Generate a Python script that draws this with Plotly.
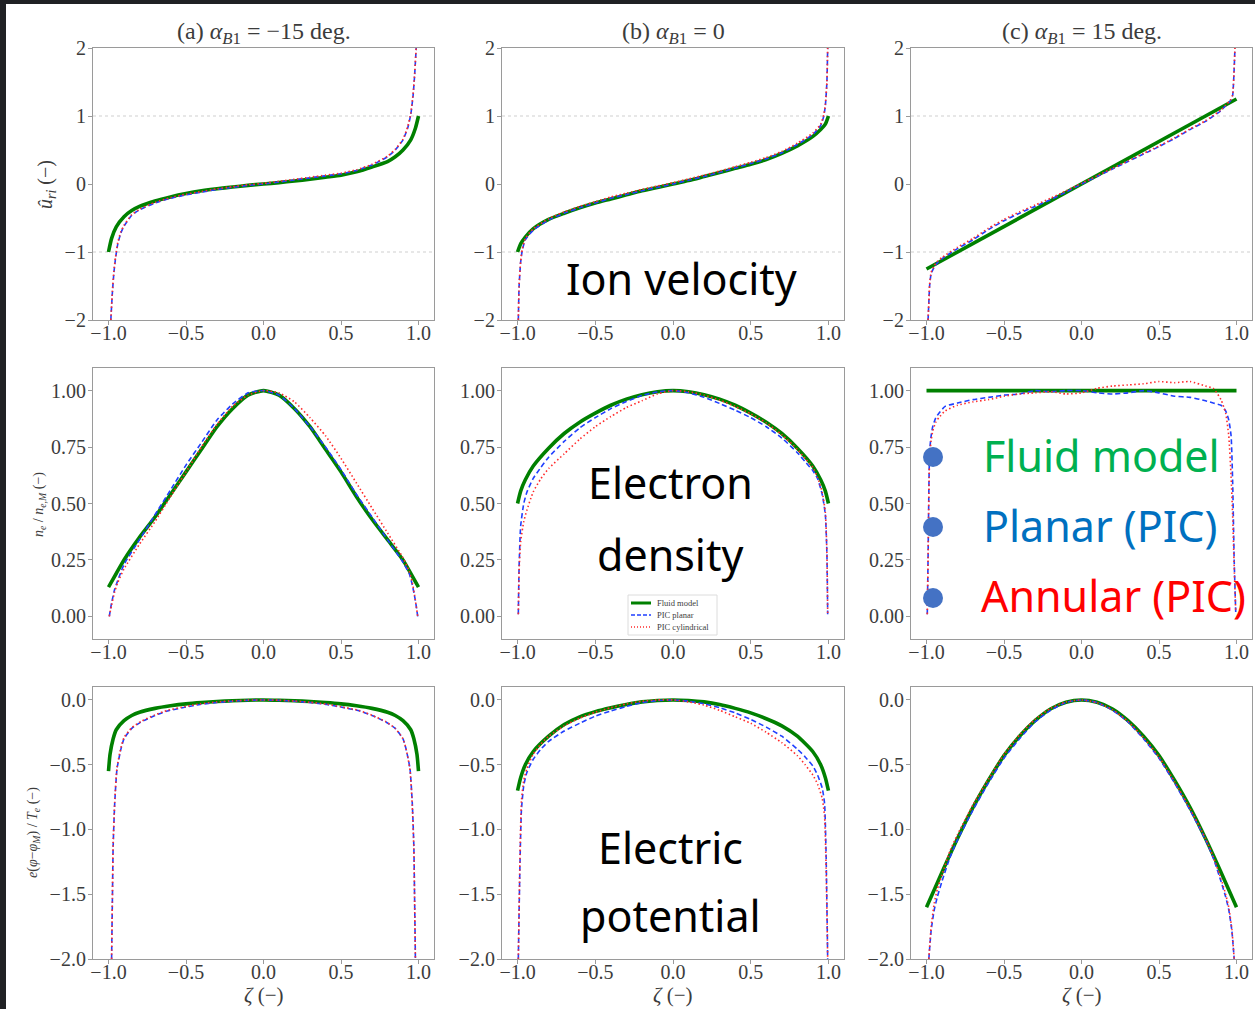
import plotly.graph_objects as go

W, H = 1255, 1009

# ---------------------------------------------------------------- data
# Row 1: normalised radial ion velocity u_ri
u_fluid_a_z = [-1.0, -0.98, -0.95, -0.9, -0.85, -0.8, -0.7, -0.6, -0.5, -0.4, -0.3, -0.2, -0.1, 0.0,
               0.1, 0.2, 0.3, 0.4, 0.5, 0.6, 0.7, 0.8, 0.85, 0.9, 0.95, 0.98, 1.0]
u_fluid_a = [-1.0, -0.80, -0.63, -0.48, -0.39, -0.33, -0.25, -0.19, -0.14, -0.10, -0.07, -0.045, -0.02, 0.0,
             0.02, 0.045, 0.07, 0.10, 0.13, 0.18, 0.25, 0.33, 0.40, 0.50, 0.65, 0.82, 1.0]
u_pic_a_z = [-0.985, -0.975, -0.965, -0.955, -0.94, -0.92, -0.9, -0.85, -0.8, -0.7, -0.6, -0.5, -0.4, -0.3,
             -0.2, -0.1, 0.0, 0.1, 0.2, 0.3, 0.4, 0.5, 0.6, 0.7, 0.8, 0.85, 0.9, 0.93, 0.95, 0.965, 0.975, 0.985]
u_planar_a = [-2.0, -1.6, -1.3, -1.1, -0.88, -0.72, -0.62, -0.46, -0.38, -0.28, -0.21, -0.16, -0.12, -0.08,
              -0.05, -0.02, 0.0, 0.03, 0.06, 0.09, 0.12, 0.15, 0.20, 0.28, 0.40, 0.50, 0.65, 0.82, 1.02, 1.3, 1.6, 2.0]
u_cyl_a = [-2.0, -1.58, -1.28, -1.08, -0.86, -0.70, -0.61, -0.45, -0.37, -0.27, -0.20, -0.15, -0.11, -0.07,
           -0.04, -0.01, 0.01, 0.04, 0.07, 0.10, 0.13, 0.16, 0.21, 0.29, 0.41, 0.51, 0.66, 0.84, 1.04, 1.32, 1.62, 2.0]

u_fluid_b_z = [-1.0, -0.98, -0.95, -0.9, -0.8, -0.7, -0.6, -0.5, -0.4, -0.3, -0.2, -0.1, 0.0,
               0.1, 0.2, 0.3, 0.4, 0.5, 0.6, 0.7, 0.8, 0.9, 0.95, 0.98, 1.0]
u_fluid_b = [-1.0, -0.88, -0.78, -0.66, -0.52, -0.43, -0.35, -0.28, -0.22, -0.16, -0.10, -0.05, 0.0,
             0.05, 0.11, 0.17, 0.23, 0.29, 0.36, 0.45, 0.56, 0.70, 0.80, 0.88, 1.0]
u_pic_b_z = [-0.995, -0.99, -0.98, -0.97, -0.95, -0.9, -0.8, -0.7, -0.6, -0.5, -0.4, -0.3, -0.2, -0.1, 0.0,
             0.1, 0.2, 0.3, 0.4, 0.5, 0.6, 0.7, 0.8, 0.9, 0.95, 0.97, 0.98, 0.99, 0.995]
u_planar_b = [-2.0, -1.5, -1.15, -0.98, -0.82, -0.68, -0.53, -0.43, -0.35, -0.28, -0.21, -0.155, -0.10, -0.05, 0.0,
              0.055, 0.11, 0.17, 0.235, 0.30, 0.37, 0.46, 0.58, 0.73, 0.86, 1.0, 1.15, 1.5, 2.0]
u_cyl_b = [-2.0, -1.5, -1.14, -0.96, -0.80, -0.66, -0.51, -0.41, -0.33, -0.26, -0.19, -0.135, -0.08, -0.03, 0.02,
           0.075, 0.13, 0.19, 0.255, 0.32, 0.39, 0.48, 0.60, 0.75, 0.88, 1.02, 1.17, 1.5, 2.0]

u_fluid_c_z = [-1.0, 1.0]
u_fluid_c = [-1.25, 1.25]
u_pic_c_z = [-0.99, -0.985, -0.98, -0.97, -0.95, -0.93, -0.9, -0.8, -0.7, -0.6, -0.5, -0.4, -0.3, -0.2, -0.1, 0.0,
             0.1, 0.2, 0.3, 0.4, 0.5, 0.6, 0.7, 0.8, 0.9, 0.93, 0.96, 0.975, 0.98, 0.985, 0.99]
u_planar_c = [-2.0, -1.75, -1.5, -1.32, -1.22, -1.16, -1.10, -0.95, -0.82, -0.67, -0.54, -0.43, -0.33, -0.23, -0.12, 0.0,
              0.11, 0.22, 0.33, 0.44, 0.55, 0.67, 0.80, 0.92, 1.08, 1.15, 1.22, 1.30, 1.45, 1.7, 2.0]
u_cyl_c = [-2.0, -1.74, -1.48, -1.30, -1.20, -1.14, -1.08, -0.93, -0.80, -0.65, -0.52, -0.41, -0.31, -0.21, -0.10, 0.01,
           0.12, 0.23, 0.34, 0.45, 0.56, 0.68, 0.81, 0.93, 1.09, 1.16, 1.23, 1.31, 1.46, 1.7, 2.0]

# Row 2: electron density n_e / n_e,M
n_fluid_a_z = [-1.0, -0.95, -0.9, -0.8, -0.7, -0.6, -0.5, -0.4, -0.3, -0.2, -0.1, 0.0,
               0.1, 0.2, 0.3, 0.4, 0.5, 0.6, 0.7, 0.8, 0.9, 0.95, 1.0]
n_fluid_a = [0.13, 0.19, 0.25, 0.35, 0.44, 0.54, 0.64, 0.74, 0.84, 0.92, 0.98, 1.0,
             0.98, 0.92, 0.84, 0.74, 0.64, 0.53, 0.43, 0.34, 0.25, 0.19, 0.13]
n_pic_a_z = [-0.995, -0.98, -0.96, -0.94, -0.9, -0.8, -0.7, -0.6, -0.5, -0.4, -0.3, -0.2, -0.1, 0.0,
             0.1, 0.2, 0.3, 0.4, 0.5, 0.6, 0.7, 0.8, 0.9, 0.94, 0.96, 0.98, 0.995]
n_planar_a = [0.0, 0.06, 0.12, 0.16, 0.23, 0.34, 0.45, 0.56, 0.67, 0.77, 0.87, 0.94, 0.99, 1.0,
              0.98, 0.92, 0.84, 0.75, 0.65, 0.54, 0.44, 0.34, 0.24, 0.19, 0.14, 0.07, 0.0]
n_cyl_a = [0.0, 0.05, 0.11, 0.15, 0.21, 0.32, 0.42, 0.53, 0.64, 0.75, 0.85, 0.93, 0.98, 1.0,
           0.99, 0.95, 0.88, 0.80, 0.70, 0.59, 0.48, 0.37, 0.26, 0.20, 0.15, 0.07, 0.0]

n_fluid_b_z = [-1.0, -0.98, -0.95, -0.9, -0.8, -0.7, -0.6, -0.5, -0.4, -0.3, -0.2, -0.1, 0.0,
               0.1, 0.2, 0.3, 0.4, 0.5, 0.6, 0.7, 0.8, 0.9, 0.95, 0.98, 1.0]
n_fluid_b = [0.50, 0.555, 0.605, 0.665, 0.745, 0.81, 0.86, 0.90, 0.935, 0.962, 0.982, 0.995, 1.0,
             0.995, 0.982, 0.962, 0.935, 0.90, 0.86, 0.81, 0.745, 0.665, 0.605, 0.555, 0.50]
n_pic_b_z = [-0.995, -0.99, -0.98, -0.96, -0.94, -0.9, -0.85, -0.8, -0.7, -0.6, -0.5, -0.4, -0.3, -0.2, -0.1, 0.0,
             0.1, 0.2, 0.3, 0.4, 0.5, 0.6, 0.7, 0.8, 0.85, 0.9, 0.93, 0.96, 0.98, 0.99, 0.995]
n_planar_b = [0.01, 0.22, 0.40, 0.50, 0.55, 0.61, 0.66, 0.705, 0.775, 0.835, 0.88, 0.92, 0.952, 0.978, 0.994, 1.0,
              0.99, 0.97, 0.943, 0.913, 0.88, 0.84, 0.79, 0.725, 0.685, 0.645, 0.61, 0.54, 0.45, 0.28, 0.01]
n_cyl_b = [0.01, 0.20, 0.33, 0.42, 0.47, 0.55, 0.61, 0.655, 0.72, 0.785, 0.84, 0.885, 0.925, 0.955, 0.985, 1.0,
           0.995, 0.98, 0.958, 0.93, 0.897, 0.857, 0.805, 0.74, 0.70, 0.66, 0.615, 0.55, 0.46, 0.28, 0.01]

n_fluid_c_z = [-1.0, 1.0]
n_fluid_c = [1.0, 1.0]
n_pic_c_z = [-0.995, -0.99, -0.98, -0.97, -0.96, -0.94, -0.92, -0.88, -0.8, -0.7, -0.6, -0.5, -0.4, -0.3, -0.2, -0.1,
             0.0, 0.1, 0.2, 0.3, 0.4, 0.5, 0.6, 0.7, 0.8, 0.85, 0.9, 0.93, 0.95, 0.965, 0.975, 0.985, 0.995]
n_planar_c = [0.01, 0.25, 0.73, 0.80, 0.84, 0.88, 0.90, 0.93, 0.945, 0.96, 0.97, 0.98, 0.985, 1.0, 0.995, 1.0,
              1.0, 0.99, 0.985, 0.99, 1.0, 0.99, 0.975, 0.97, 0.955, 0.945, 0.935, 0.91, 0.87, 0.80, 0.60, 0.25, 0.02]
n_cyl_c = [0.01, 0.25, 0.70, 0.78, 0.82, 0.86, 0.88, 0.91, 0.935, 0.95, 0.96, 0.975, 0.985, 0.99, 0.995, 0.985,
           0.99, 1.01, 1.02, 1.025, 1.03, 1.04, 1.035, 1.04, 1.02, 1.01, 0.96, 0.90, 0.80, 0.62, 0.45, 0.22, 0.02]

# Row 3: normalised electric potential e(phi - phi_M)/T_e
p_fluid_a_z = [-1.0, -0.99, -0.97, -0.95, -0.9, -0.85, -0.8, -0.7, -0.6, -0.5, -0.4, -0.3, -0.2, -0.1, 0.0,
               0.1, 0.2, 0.3, 0.4, 0.5, 0.6, 0.7, 0.8, 0.85, 0.9, 0.95, 0.97, 0.99, 1.0]
p_fluid_a = [-0.55, -0.42, -0.30, -0.23, -0.16, -0.12, -0.095, -0.065, -0.045, -0.03, -0.02, -0.012, -0.006, -0.002, 0.0,
             -0.002, -0.006, -0.012, -0.02, -0.03, -0.045, -0.065, -0.095, -0.12, -0.16, -0.23, -0.30, -0.42, -0.55]
p_pic_a_z = [-0.98, -0.975, -0.97, -0.96, -0.945, -0.92, -0.9, -0.85, -0.79, -0.7, -0.62, -0.5, -0.41, -0.3, -0.2, -0.1, 0.0,
             0.1, 0.2, 0.3, 0.41, 0.5, 0.62, 0.7, 0.79, 0.85, 0.9, 0.92, 0.945, 0.96, 0.97, 0.975, 0.98]
p_planar_a = [-2.0, -1.55, -1.13, -0.80, -0.53, -0.38, -0.30, -0.22, -0.17, -0.12, -0.085, -0.055, -0.035, -0.02, -0.01, -0.003, 0.0,
              -0.003, -0.01, -0.02, -0.035, -0.055, -0.085, -0.12, -0.17, -0.22, -0.30, -0.38, -0.53, -0.80, -1.13, -1.55, -2.0]
p_cyl_a = [-2.0, -1.53, -1.11, -0.79, -0.52, -0.37, -0.29, -0.215, -0.165, -0.115, -0.08, -0.05, -0.03, -0.015, -0.007, -0.001, 0.0,
           -0.002, -0.008, -0.018, -0.033, -0.052, -0.082, -0.118, -0.168, -0.22, -0.30, -0.38, -0.54, -0.82, -1.15, -1.57, -2.0]

p_fluid_b_z = [-1.0, -0.98, -0.95, -0.9, -0.8, -0.7, -0.6, -0.5, -0.4, -0.3, -0.2, -0.1, 0.0,
               0.1, 0.2, 0.3, 0.4, 0.5, 0.6, 0.7, 0.8, 0.9, 0.95, 0.98, 1.0]
p_fluid_b = [-0.70, -0.60, -0.50, -0.40, -0.28, -0.19, -0.13, -0.09, -0.06, -0.035, -0.015, -0.004, 0.0,
             -0.004, -0.015, -0.035, -0.065, -0.10, -0.145, -0.20, -0.28, -0.40, -0.50, -0.60, -0.70]
p_pic_b_z = [-0.995, -0.985, -0.975, -0.96, -0.94, -0.9, -0.85, -0.8, -0.7, -0.6, -0.5, -0.4, -0.3, -0.2, -0.1, 0.0,
             0.1, 0.2, 0.3, 0.4, 0.5, 0.6, 0.7, 0.8, 0.85, 0.9, 0.93, 0.96, 0.975, 0.985, 0.995]
p_planar_b = [-2.0, -1.3, -0.85, -0.66, -0.56, -0.46, -0.38, -0.32, -0.24, -0.18, -0.125, -0.085, -0.05, -0.02, -0.005, 0.0,
              -0.01, -0.03, -0.06, -0.10, -0.15, -0.21, -0.28, -0.38, -0.44, -0.51, -0.58, -0.68, -0.80, -1.2, -2.0]
p_cyl_b = [-2.0, -1.25, -0.78, -0.62, -0.53, -0.42, -0.34, -0.28, -0.20, -0.14, -0.095, -0.06, -0.03, -0.01, 0.0, 0.0,
           -0.015, -0.04, -0.08, -0.13, -0.18, -0.25, -0.33, -0.43, -0.50, -0.58, -0.65, -0.76, -0.90, -1.3, -2.0]

p_fluid_c_z = [-1.0, -0.9, -0.8, -0.7, -0.6, -0.5, -0.4, -0.3, -0.2, -0.1, 0.0,
               0.1, 0.2, 0.3, 0.4, 0.5, 0.6, 0.7, 0.8, 0.9, 1.0]
p_fluid_c = [-1.60, -1.33, -1.07, -0.83, -0.62, -0.43, -0.28, -0.16, -0.07, -0.018, 0.0,
             -0.018, -0.07, -0.16, -0.28, -0.43, -0.62, -0.83, -1.07, -1.33, -1.60]
p_pic_c_z = [-0.985, -0.97, -0.95, -0.93, -0.9, -0.85, -0.8, -0.7, -0.6, -0.5, -0.4, -0.3, -0.2, -0.1, 0.0,
             0.1, 0.2, 0.3, 0.4, 0.5, 0.6, 0.7, 0.8, 0.85, 0.9, 0.93, 0.95, 0.97, 0.985]
p_planar_c = [-2.0, -1.78, -1.62, -1.52, -1.40, -1.22, -1.08, -0.85, -0.64, -0.45, -0.30, -0.17, -0.08, -0.02, 0.0,
              -0.02, -0.08, -0.17, -0.30, -0.45, -0.64, -0.85, -1.08, -1.22, -1.40, -1.52, -1.62, -1.78, -2.0]
p_cyl_c = [-2.0, -1.75, -1.57, -1.46, -1.35, -1.17, -1.04, -0.81, -0.61, -0.42, -0.27, -0.15, -0.065, -0.015, 0.0,
           -0.02, -0.075, -0.165, -0.29, -0.44, -0.63, -0.84, -1.07, -1.21, -1.38, -1.50, -1.60, -1.77, -2.0]

# tick positions / labels
x_ticks = [-1.0, -0.5, 0.0, 0.5, 1.0]
x_tick_text = ["\u22121.0", "\u22120.5", "0.0", "0.5", "1.0"]
u_ticks = [-2, -1, 0, 1, 2]
u_tick_text = ["\u22122", "\u22121", "0", "1", "2"]
n_ticks = [0.0, 0.25, 0.5, 0.75, 1.0]
n_tick_text = ["0.00", "0.25", "0.50", "0.75", "1.00"]
p_ticks = [-2.0, -1.5, -1.0, -0.5, 0.0]
p_tick_text = ["\u22122.0", "\u22121.5", "\u22121.0", "\u22120.5", "0.0"]
u_ref_levels = [-1, 1]

case_titles = ["(a) <i>\u03b1</i><sub><i>B</i>1</sub> = \u221215 deg.",
               "(b) <i>\u03b1</i><sub><i>B</i>1</sub> = 0",
               "(c) <i>\u03b1</i><sub><i>B</i>1</sub> = 15 deg."]
series_names = ["Fluid model", "PIC planar", "PIC cylindrical"]

# panels: rows = quantity, columns = case
panels = [
    [(u_fluid_a_z, u_fluid_a, u_pic_a_z, u_planar_a, u_cyl_a),
     (u_fluid_b_z, u_fluid_b, u_pic_b_z, u_planar_b, u_cyl_b),
     (u_fluid_c_z, u_fluid_c, u_pic_c_z, u_planar_c, u_cyl_c)],
    [(n_fluid_a_z, n_fluid_a, n_pic_a_z, n_planar_a, n_cyl_a),
     (n_fluid_b_z, n_fluid_b, n_pic_b_z, n_planar_b, n_cyl_b),
     (n_fluid_c_z, n_fluid_c, n_pic_c_z, n_planar_c, n_cyl_c)],
    [(p_fluid_a_z, p_fluid_a, p_pic_a_z, p_planar_a, p_cyl_a),
     (p_fluid_b_z, p_fluid_b, p_pic_b_z, p_planar_b, p_cyl_b),
     (p_fluid_c_z, p_fluid_c, p_pic_c_z, p_planar_c, p_cyl_c)],
]
row_axes = [((-2, 2), u_ticks, u_tick_text),
            ((-0.1, 1.1), n_ticks, n_tick_text),
            ((-2.0, 0.1), p_ticks, p_tick_text)]

# ---------------------------------------------------------------- styles
COL_PX = [(93, 434), (502, 844), (911, 1252)]
ROW_PX = [(48, 320), (368, 639), (687, 959)]

SERIF = "Liberation Serif"
SANS = "Noto Sans"
TXT = "#3c3c3c"
FRAME = "#9a9a9a"
GREEN, BLUE, RED = "#008000", "#1f3fff", "#ff2a2a"
BLUE_DASH, RED_DOT = "5px,3px", "1.5px,2.5px"

fig = go.Figure()
layout_axes = {}
shapes = []

for r in range(3):
    for c in range(3):
        k = r * 3 + c + 1
        suffix = "" if k == 1 else str(k)
        xa, ya = f"x{suffix}", f"y{suffix}"
        fz, fv, pz, pv_planar, pv_cyl = panels[r][c]
        fig.add_trace(go.Scatter(x=fz, y=fv, mode="lines", name=series_names[0],
                                 line=dict(color=GREEN, width=3.6, shape="spline", smoothing=0.6),
                                 xaxis=xa, yaxis=ya, showlegend=False))
        fig.add_trace(go.Scatter(x=pz, y=pv_planar, mode="lines", name=series_names[1],
                                 line=dict(color=BLUE, width=1.6, dash=BLUE_DASH, shape="spline", smoothing=0.5),
                                 xaxis=xa, yaxis=ya, showlegend=False))
        fig.add_trace(go.Scatter(x=pz, y=pv_cyl, mode="lines", name=series_names[2],
                                 line=dict(color=RED, width=1.6, dash=RED_DOT, shape="spline", smoothing=0.5),
                                 xaxis=xa, yaxis=ya, showlegend=False))

        x0, x1 = COL_PX[c]
        y0, y1 = ROW_PX[r]
        yr, yt, ytt = row_axes[r]
        common = dict(showline=True, mirror=True, linecolor=FRAME, linewidth=1.2,
                      ticks="outside", ticklen=4, tickwidth=1, tickcolor=FRAME,
                      showgrid=False, zeroline=False, automargin=False,
                      tickfont=dict(family=SERIF, size=20, color=TXT))
        layout_axes[f"xaxis{suffix}"] = dict(domain=[x0 / W, x1 / W], range=[-1.1, 1.1],
                                             tickvals=x_ticks, ticktext=x_tick_text,
                                             ticklabelstandoff=-9, anchor=ya, **common)
        layout_axes[f"yaxis{suffix}"] = dict(domain=[1 - y1 / H, 1 - y0 / H], range=list(yr),
                                             tickvals=yt, ticktext=ytt, ticklabelstandoff=-2,
                                             anchor=xa, **common)
        if r == 0:
            for lev in u_ref_levels:
                shapes.append(dict(type="line", xref=f"{xa} domain", yref=ya, x0=0, x1=1, y0=lev, y1=lev,
                                   line=dict(color="#cfcfcf", width=1, dash="dot"), layer="below"))

# dark frame strips along top and left edges
shapes.append(dict(type="rect", xref="paper", yref="paper", x0=0, x1=1, y0=1 - 4 / H, y1=1,
                   fillcolor="#202124", line=dict(width=0)))
shapes.append(dict(type="rect", xref="paper", yref="paper", x0=0, x1=6 / W, y0=0, y1=1,
                   fillcolor="#202124", line=dict(width=0)))


def px_x(x):
    return x / W


def px_y(y):
    return 1 - y / H


# bullet dots next to the colour key
for cy in [457, 527, 598]:
    cx, rad = 933, 10
    shapes.append(dict(type="circle", xref="paper", yref="paper",
                       x0=px_x(cx - rad), x1=px_x(cx + rad), y0=px_y(cy + rad), y1=px_y(cy - rad),
                       fillcolor="#4472c4", line=dict(width=0)))

annotations = []


def px_ann(text, x, y, size, color=TXT, family=SERIF, xanchor="center", angle=0):
    annotations.append(dict(text=text, x=px_x(x), y=px_y(y), xref="paper", yref="paper",
                            xanchor=xanchor, yanchor="middle", showarrow=False, textangle=angle,
                            font=dict(family=family, size=size, color=color)))


# small legend box inside the middle density panel
LEG_X0, LEG_X1, LEG_Y0, LEG_Y1 = 628, 717, 595, 635
shapes.append(dict(type="rect", xref="paper", yref="paper",
                   x0=px_x(LEG_X0), x1=px_x(LEG_X1), y0=px_y(LEG_Y1), y1=px_y(LEG_Y0),
                   fillcolor="white", line=dict(color="#dcdcdc", width=1)))
for i, (col, wid, dash) in enumerate([(GREEN, 3, "solid"), (BLUE, 1.4, "4px,2px"), (RED, 1.4, "1px,2px")]):
    ly = 603 + 12 * i
    shapes.append(dict(type="line", xref="paper", yref="paper",
                       x0=px_x(631), x1=px_x(651), y0=px_y(ly), y1=px_y(ly),
                       line=dict(color=col, width=wid, dash=dash)))
    px_ann(series_names[i], 655, ly, 8.5, xanchor="left")

for c in range(3):
    cx = sum(COL_PX[c]) / 2
    px_ann(case_titles[c], cx, 33, 24)
    px_ann("<i>\u03b6</i> (\u2212)", cx, 995, 21)

px_ann("<i>\u00fb<sub>ri</sub></i> (\u2212)", 47, 185, 20, angle=-90)
px_ann("<i>n<sub>e</sub></i> / <i>n<sub>e,M</sub></i> (\u2212)", 40, 505, 14, angle=-90)
px_ann("<i>e</i>(<i>\u03c6</i>\u2212<i>\u03c6<sub>M</sub></i>) / <i>T<sub>e</sub></i> (\u2212)", 33, 833, 14, angle=-90)

px_ann("Ion velocity", 681, 278, 43, color="#000000", family=SANS)
px_ann("Electron", 670, 483, 43, color="#000000", family=SANS)
px_ann("density", 670, 554, 43, color="#000000", family=SANS)
px_ann("Electric", 670, 847, 43, color="#000000", family=SANS)
px_ann("potential", 670, 915, 43, color="#000000", family=SANS)
px_ann("Fluid model", 981, 455, 43, color="#00b050", family=SANS, xanchor="left")
px_ann("Planar (PIC)", 981, 525, 43, color="#0070c0", family=SANS, xanchor="left")
px_ann("Annular (PIC)", 979, 595, 43, color="#ff0000", family=SANS, xanchor="left")

fig.update_layout(
    width=W, height=H, margin=dict(l=0, r=0, t=0, b=0, pad=0, autoexpand=False),
    paper_bgcolor="white", plot_bgcolor="white", showlegend=False,
    shapes=shapes, annotations=annotations,
    **layout_axes,
)

fig.write_html("out.html")
